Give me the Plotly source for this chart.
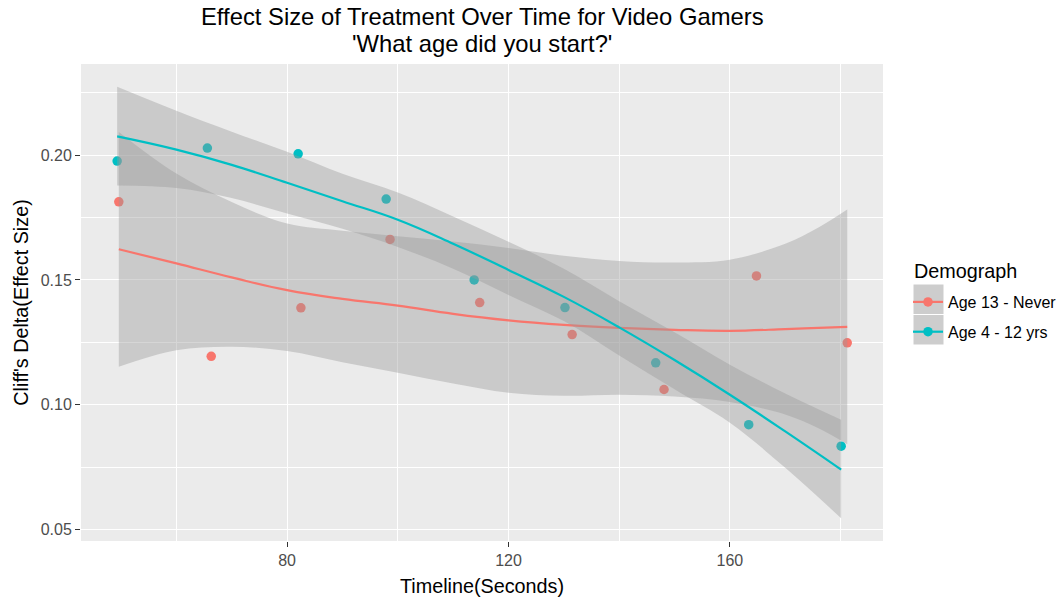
import plotly.graph_objects as go

# ---- observed effect sizes per demographic group ----
time_13_never = [49.6, 66.3, 82.5, 98.6, 114.8, 131.5, 148.1, 164.8, 181.2]
delta_13_never = [0.1813, 0.1194, 0.1388, 0.1662, 0.1409, 0.1281, 0.1061, 0.1516, 0.1248]

time_4_12 = [49.3, 65.6, 82.0, 97.9, 113.8, 130.2, 146.6, 163.4, 180.1]
delta_4_12 = [0.1976, 0.2028, 0.2005, 0.1824, 0.1500, 0.1389, 0.1168, 0.0920, 0.0834]

# ---- loess fit with 95% confidence band ----
fit_time_13 = [49.6, 60, 70, 80, 90, 100, 110, 120, 130, 140, 150, 160, 170, 176, 181.2]
fit_13 = [0.1623, 0.1566, 0.1510, 0.1459, 0.1424, 0.1397, 0.1364, 0.1338, 0.1320, 0.1308,
          0.1300, 0.1296, 0.1303, 0.1308, 0.1312]
fit_hi_13 = [0.2093, 0.1926, 0.1812, 0.1726, 0.1697, 0.1675, 0.1654, 0.1628, 0.1597, 0.1576,
             0.1570, 0.1581, 0.1645, 0.1710, 0.1782]
fit_lo_13 = [0.1152, 0.1218, 0.1232, 0.1215, 0.1170, 0.1128, 0.1085, 0.1048, 0.1036, 0.1040,
             0.1033, 0.1011, 0.0961, 0.0906, 0.0842]

fit_time_4 = [49.3, 60, 70, 80, 90, 100, 110, 120, 130, 140, 150, 160, 170, 180.1]
fit_4 = [0.2075, 0.2022, 0.1961, 0.1889, 0.1815, 0.1741, 0.1645, 0.1540, 0.1432, 0.1310,
         0.1179, 0.1040, 0.0893, 0.0740]
fit_hi_4 = [0.2274, 0.2178, 0.2094, 0.2013, 0.1925, 0.1850, 0.1754, 0.1653, 0.1545, 0.1415,
            0.1290, 0.1160, 0.1045, 0.0940]
fit_lo_4 = [0.1878, 0.1868, 0.1828, 0.1766, 0.1705, 0.1632, 0.1545, 0.1440, 0.1335, 0.1197,
            0.1062, 0.0928, 0.0747, 0.0545]

groups = ["Age 13 - Never", "Age 4 - 12 yrs"]
colors = ["#F8766D", "#00BFC4"]
band_fill = "rgba(153,153,153,0.4)"
FONT = "Liberation Sans, Arial, sans-serif"

# plot-area geometry in pixels (used to place legend keys and titles)
L, R, T, B = 81, 883, 64, 541
PW, PH = R - L, B - T

fig = go.Figure()

# points first so the confidence bands sit on top of them
for name, col, xs, ys in [(groups[0], colors[0], time_13_never, delta_13_never),
                          (groups[1], colors[1], time_4_12, delta_4_12)]:
    fig.add_trace(go.Scatter(x=xs, y=ys, mode="markers", name=name, showlegend=False,
                             marker=dict(color=col, size=9.5, line=dict(width=0))))

# band + fitted line per group
for name, col, fx, fm, fh, fl in [
        (groups[0], colors[0], fit_time_13, fit_13, fit_hi_13, fit_lo_13),
        (groups[1], colors[1], fit_time_4, fit_4, fit_hi_4, fit_lo_4)]:
    fig.add_trace(go.Scatter(x=fx, y=fl, mode="lines", showlegend=False, hoverinfo="skip",
                             line=dict(width=0, shape="spline")))
    fig.add_trace(go.Scatter(x=fx, y=fh, mode="lines", showlegend=False, hoverinfo="skip",
                             fill="tonexty", fillcolor=band_fill,
                             line=dict(width=0, shape="spline")))
    fig.add_trace(go.Scatter(x=fx, y=fm, mode="lines", showlegend=False,
                             line=dict(color=col, width=2.2, shape="spline", smoothing=1.2)))

# legend entries (line + point key)
for i, (name, col) in enumerate(zip(groups, colors)):
    fig.add_trace(go.Scatter(x=[None], y=[None], mode="lines+markers", name=name,
                             legendgroup=f"g{i}",
                             line=dict(color=col, width=2.2),
                             marker=dict(color=col, size=9.5)))

# grey key backgrounds behind the legend symbols
for y0, y1 in [(284, 314.5), (314.5, 345)]:
    fig.add_shape(type="rect", xref="paper", yref="paper",
                  x0=(913 - L) / PW, x1=(944 - L) / PW,
                  y0=(B - y1) / PH, y1=(B - y0) / PH,
                  fillcolor="#CDCDCD", line=dict(color="white", width=1), layer="above")

# legend heading
fig.add_annotation(text="Demograph", xref="paper", yref="paper",
                   x=(912 - L) / PW, y=(B - 271) / PH, xanchor="left", yanchor="middle",
                   showarrow=False, font=dict(family=FONT, size=19.8, color="black"))

# two-line title
fig.add_annotation(text="Effect Size of Treatment Over Time for Video Gamers",
                   xref="paper", yref="paper", x=0.5, y=(B - 17) / PH,
                   xanchor="center", yanchor="middle", showarrow=False,
                   font=dict(family=FONT, size=23.8, color="black"))
fig.add_annotation(text="'What age did you start?'",
                   xref="paper", yref="paper", x=0.5, y=(B - 43) / PH,
                   xanchor="center", yanchor="middle", showarrow=False,
                   font=dict(family=FONT, size=23.8, color="black"))

axis_common = dict(
    showgrid=True, gridcolor="white", gridwidth=1.4, zeroline=False,
    ticks="outside", ticklen=5, tickwidth=1.4, tickcolor="#333333",
    tickfont=dict(family=FONT, size=16, color="#4D4D4D"),
    showline=False,
)

fig.update_layout(
    width=1062, height=598,
    margin=dict(l=L, r=1062 - R, t=T, b=598 - B, autoexpand=False),
    paper_bgcolor="white", plot_bgcolor="#EBEBEB",
    font=dict(family=FONT),
    xaxis=dict(range=[42.77, 187.66], dtick=40, tick0=0,
               minor=dict(dtick=20, tick0=0, showgrid=True, gridcolor="white", gridwidth=0.7),
               title=dict(text="Timeline(Seconds)", font=dict(family=FONT, size=19.8, color="black"),
                          standoff=10),
               **axis_common),
    yaxis=dict(range=[0.0454, 0.2365], dtick=0.05, tick0=0, tickformat=".2f",
               minor=dict(dtick=0.025, tick0=0, showgrid=True, gridcolor="white", gridwidth=0.7),
               title=dict(text="Cliff's Delta(Effect Size)", font=dict(family=FONT, size=19.8, color="black"),
                          standoff=6),
               **axis_common),
    legend=dict(x=(908 - L) / PW, xanchor="left", y=(B - 285) / PH, yanchor="top",
                bgcolor="rgba(0,0,0,0)", tracegroupgap=6,
                font=dict(family=FONT, size=16, color="black")),
    showlegend=True,
)

fig.write_html("out.html")
